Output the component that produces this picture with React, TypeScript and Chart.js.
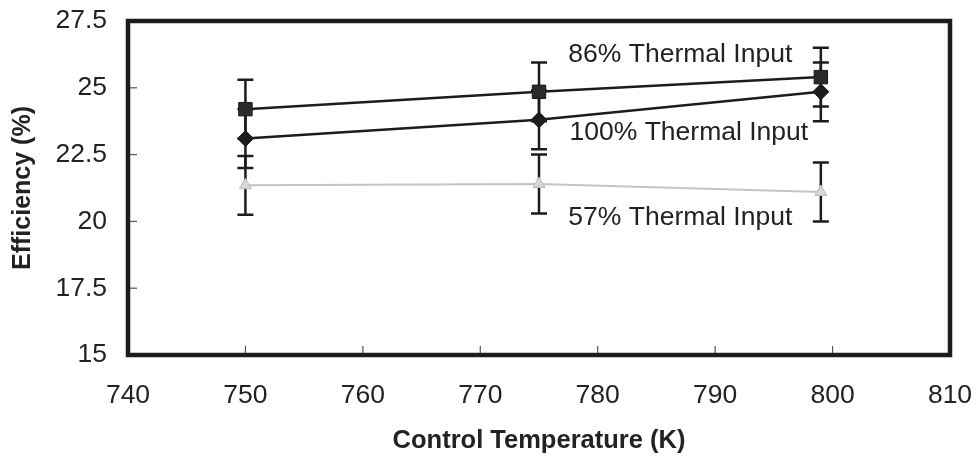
import { useEffect, useRef } from "react";
import { Chart, registerables } from "chart.js";

Chart.register(...registerables);

// ---- data ----
const temperatures = [750, 775, 799];
const input86 = [24.2, 24.85, 25.4];
const input100 = [23.1, 23.8, 24.85];
const input57 = [21.35, 21.4, 21.1];
const err86 = [1.1, 1.1, 1.1];
const err100 = [1.1, 1.1, 1.1];
const err57 = [1.1, 1.1, 1.1];
const seriesNames = ["86% Thermal Input", "100% Thermal Input", "57% Thermal Input"];
const noteX = [777.5, 777.6, 777.5];
const noteY = [26.23, 23.31, 20.13];
const xTicks = { min: 740, max: 810, step: 10 };
const yTicks = { min: 15, max: 27.5, step: 2.5 };

const FONT = '"Liberation Sans", Arial, Helvetica, sans-serif';
const DARK = "#1c1c1c";

const errorBarsPlugin = {
  id: "errorBars",
  beforeDatasetsDraw(chart: any) {
    const { ctx, scales } = chart;
    const x = scales.x;
    const y = scales.y;
    ctx.save();
    ctx.strokeStyle = DARK;
    ctx.lineWidth = 2.5;
    chart.data.datasets.forEach((ds: any) => {
      ds.data.forEach((p: any, i: number) => {
        const e = ds.errors[i];
        const px = x.getPixelForValue(p.x);
        const top = y.getPixelForValue(p.y + e);
        const bot = y.getPixelForValue(p.y - e);
        ctx.beginPath();
        ctx.moveTo(px, top);
        ctx.lineTo(px, bot);
        ctx.moveTo(px - 8, top);
        ctx.lineTo(px + 8, top);
        ctx.moveTo(px - 8, bot);
        ctx.lineTo(px + 8, bot);
        ctx.stroke();
      });
    });
    ctx.restore();
  },
};

const framePlugin = {
  id: "frame",
  afterDraw(chart: any) {
    const { ctx, chartArea, scales } = chart;
    const { left, right, top, bottom } = chartArea;
    ctx.save();
    // inward ticks
    ctx.strokeStyle = "#555";
    ctx.lineWidth = 1.2;
    scales.y.ticks.forEach((t: any) => {
      const py = scales.y.getPixelForValue(t.value);
      ctx.beginPath();
      ctx.moveTo(left, py);
      ctx.lineTo(left + 9, py);
      ctx.stroke();
    });
    scales.x.ticks.forEach((t: any) => {
      const px = scales.x.getPixelForValue(t.value);
      ctx.beginPath();
      ctx.moveTo(px, bottom);
      ctx.lineTo(px, bottom - 9);
      ctx.stroke();
    });
    // frame
    ctx.strokeStyle = DARK;
    ctx.lineWidth = 4.5;
    ctx.strokeRect(left, top, right - left, bottom - top);
    // annotations
    ctx.fillStyle = "#222";
    ctx.font = `26.5px ${FONT}`;
    ctx.textAlign = "left";
    ctx.textBaseline = "middle";
    seriesNames.forEach((name, i) => {
      ctx.fillText(name, scales.x.getPixelForValue(noteX[i]), scales.y.getPixelForValue(noteY[i]));
    });
    ctx.restore();
  },
};

const noOverflow = (s: any) => {
  s.paddingTop = 0;
  s.paddingBottom = 0;
  s.paddingLeft = 0;
  s.paddingRight = 0;
};

export default function App() {
  const ref = useRef<HTMLCanvasElement>(null);

  useEffect(() => {
    if (!ref.current) return;
    const toPts = (ys: number[]) => ys.map((v, i) => ({ x: temperatures[i], y: v }));
    const chart = new Chart(ref.current, {
      type: "line",
      data: {
        datasets: [
          {
            label: seriesNames[2],
            data: toPts(input57),
            errors: err57,
            borderColor: "#c4c4c4",
            backgroundColor: "#c4c4c4",
            borderWidth: 2,
            pointStyle: "triangle",
            pointRadius: 7,
            pointBorderColor: "#bdbdbd",
            pointBackgroundColor: "#d6d6d6",
            pointBorderWidth: 1,
          } as any,
          {
            label: seriesNames[1],
            data: toPts(input100),
            errors: err100,
            borderColor: DARK,
            backgroundColor: DARK,
            borderWidth: 2.5,
            pointStyle: "rectRot",
            pointRadius: 8,
            pointBorderColor: DARK,
            pointBackgroundColor: DARK,
            pointBorderWidth: 1,
          } as any,
          {
            label: seriesNames[0],
            data: toPts(input86),
            errors: err86,
            borderColor: DARK,
            backgroundColor: DARK,
            borderWidth: 2.5,
            pointStyle: "rect",
            pointRadius: 9.5,
            pointBorderColor: DARK,
            pointBackgroundColor: "#2a2a2a",
            pointBorderWidth: 1,
          } as any,
        ],
      },
      options: {
        animation: false,
        responsive: false,
        events: [],
        layout: { padding: { left: 0, top: 21, right: 28, bottom: 0 } },
        plugins: { legend: { display: false }, tooltip: { enabled: false } },
        scales: {
          x: {
            type: "linear",
            min: xTicks.min,
            max: xTicks.max,
            afterFit: (s: any) => {
              s.height = 105;
              noOverflow(s);
            },
            ticks: {
              stepSize: xTicks.step,
              padding: 25,
              color: "#222",
              font: { family: FONT, size: 26.5 },
            },
            grid: { display: true, drawOnChartArea: false, drawTicks: false, color: "transparent" },
            border: { display: false },
            title: {
              display: true,
              text: "Control Temperature (K)",
              color: "#222",
              font: { family: FONT, size: 25.5, weight: "bold" },
              padding: { top: 0, bottom: 4 },
            },
          },
          y: {
            type: "linear",
            min: yTicks.min,
            max: yTicks.max,
            afterFit: (s: any) => {
              s.width = 128;
              noOverflow(s);
            },
            ticks: {
              stepSize: yTicks.step,
              padding: 21,
              color: "#222",
              font: { family: FONT, size: 26.5 },
            },
            grid: { display: true, drawOnChartArea: false, drawTicks: false, color: "transparent" },
            border: { display: false },
            title: {
              display: true,
              text: "Efficiency (%)",
              color: "#222",
              font: { family: FONT, size: 25, weight: "bold" },
              padding: { top: 8, bottom: 0 },
            },
          },
        },
      } as any,
      plugins: [errorBarsPlugin, framePlugin],
    });
    return () => chart.destroy();
  }, []);

  return (
    <div style={{ position: "absolute", left: 0, top: 0, width: 978, height: 460, background: "#fff" }}>
      <canvas ref={ref} width={978} height={460} />
    </div>
  );
}
